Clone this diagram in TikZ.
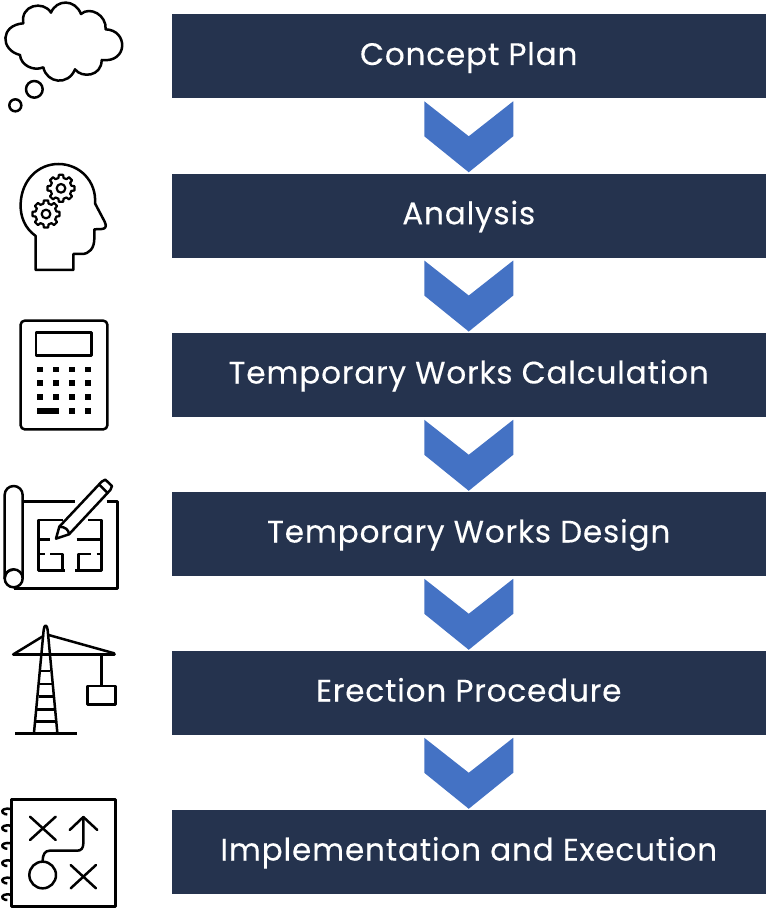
\documentclass[tikz,border=0pt]{standalone}
\usepackage{fontspec}
\setmainfont[FakeBold=0.25]{Poppins}
\newlength{\du}
\setlength{\du}{0.75pt}
\definecolor{barcolor}{rgb}{0.145, 0.200, 0.306}
\definecolor{chevcolor}{rgb}{0.267, 0.447, 0.769}
\tikzset{
  stepbar/.style={fill=barcolor,text=white,minimum width=594.5\du,minimum height=84\du,inner sep=0pt,text height=25\du,text depth=8\du,font=\fontsize{23.3}{26}\selectfont\addfontfeature{LetterSpace=2.7}},
  chevfill/.style={fill=chevcolor},
  iconline/.style={draw=black,line width=2.5\du,line join=round},
  iconkey/.style={fill=black},
  zoomed/.style={shift={(0,#1)},scale=0.33333},
}
\newcommand{\drawgear}[2]{
\draw[iconline,line width=2.2\du,shift={(#1,#2)}] (-9:41) \foreach \a in {0,45,...,315}{ -- (\a-9:41) -- (\a+9:41) -- (\a+14:32) -- (\a+31:32) } -- cycle;
\draw[iconline,line width=2.2\du] (#1,#2) circle (13);
}
\newcommand{\drawcross}[4]{
\draw[iconline,line cap=round] (#1,#2)--(#3,#4);
\draw[iconline,line cap=round] (#1,#4)--(#3,#2);
}
\begin{document}
\begin{tikzpicture}[x=\du,y=-\du]
\useasboundingbox (0,0) rectangle (766,909);
% bars
\node[stepbar] (concept) at (468.75,56.5){Concept Plan};
\node[stepbar] (analysis) at (468.75,215.75){Analysis};
\node[stepbar] (calculation) at (468.75,375){Temporary Works Calculation};
\node[stepbar] (design) at (468.75,534){Temporary Works Design};
\node[stepbar] (erection) at (468.75,693){Erection Procedure};
\node[stepbar] (execution) at (468.75,852){Implementation and Execution};
% chevrons
\foreach \upper in {concept,analysis,calculation,design,erection}{
\fill[chevfill,shift={(\upper.south)}] (-44.5,2.5)--(0,37.5)--(44.5,2.5)--(44.5,37.5)--(0,73.5)--(-44.5,37.5)--cycle;
}
% cloud
\begin{scope}[zoomed=0]
\draw[iconline] (70,70) .. controls (60,15) and (130,0) .. (153,38)
  .. controls (170,-3) and (225,-3) .. (243,42)
  .. controls (270,18) and (320,45) .. (317,88)
  .. controls (385,90) and (385,190) .. (305,180)
  .. controls (305,230) and (245,235) .. (225,208)
  .. controls (205,258) and (140,250) .. (130,202)
  .. controls (100,215) and (62,195) .. (60,165)
  .. controls (0,150) and (0,75) .. (70,70) -- cycle;
\draw[iconline] (103,268) circle (25);
\draw[iconline] (46,316) circle (18);
\end{scope}
% head
\begin{scope}[zoomed=0]
\draw[iconline] (107,810)--(107,708) .. controls (75,685) and (60,650) .. (62,610)
  .. controls (65,540) and (115,492) .. (175,492)
  .. controls (240,492) and (290,545) .. (285,610)
  -- (314,665) .. controls (322,680) and (315,687) .. (305,687)
  -- (283,688) -- (283,715) .. controls (283,745) and (268,762) .. (245,762)
  -- (220,762) -- (220,810) -- cycle;
\drawgear{183}{565}
\drawgear{138}{642}
\end{scope}
% calculator
\begin{scope}[zoomed=300]
\draw[iconline,rounded corners=3pt] (62,62) rectangle (322,388);
\draw[iconline] (108,98) rectangle (274,167);
\foreach \ky in {208,249,291}{
\foreach \kx in {120,167,215,263}{
\fill[iconkey] (\kx-9,\ky-8) rectangle (\kx+9,\ky+8);
}}
\fill[iconkey] (111,325) rectangle (177,341);
\fill[iconkey] (206,325) rectangle (224,341);
\fill[iconkey] (254,325) rectangle (272,341);
\end{scope}
% blueprint
\begin{scope}[zoomed=300]
\draw[iconline] (40,809) .. controls (26,809) and (14,820) .. (14,835) -- (14,585)
  .. controls (14,570) and (26,558) .. (41,558) .. controls (56,558) and (68,570) .. (68,585)
  -- (68,835);
\draw[iconline] (41,835) circle (27);
\draw[iconline] (68,605)--(225,605);
\draw[iconline] (320,605)--(353,605)--(353,865)--(41,865);
\draw[iconline] (190,660)--(115,660)--(115,812)--(195,812);
\draw[iconline] (187,812)--(187,762)--(150,762);
\draw[iconline] (115,762)--(135,762);
\draw[iconline] (115,718)--(150,718);
\draw[iconline] (265,660)--(305,660)--(305,812)--(225,812);
\draw[iconline] (235,812)--(235,762)--(272,762);
\draw[iconline] (290,762)--(305,762);
\draw[iconline] (230,718)--(305,718);
\draw[iconline] (168,716)--(178,680)--(305,545)--(316,539)--(336,558)--(331,570)--(207,703)--cycle;
\draw[iconline] (178,680) .. controls (195,680) and (207,690) .. (207,703);
\draw[iconline] (297,553)--(324,580);
\end{scope}
% crane
\begin{scope}[zoomed=610]
\draw[iconline] (102,368)--(131,60) .. controls (133,42) and (141,42) .. (143,60) -- (172,368);
\foreach \ry/\rw in {183/14,222/18,260/21,298/25,335/29}{
\draw[iconline] (137-\rw,\ry)--(137+\rw,\ry);
}
\draw[iconline,line width=3\du,line cap=round] (40,133)--(343,133);
\draw[iconline,line cap=round] (40,133)--(130,78);
\draw[iconline,line cap=round] (146,75)--(343,130);
\draw[iconline] (304,133)--(304,228);
\draw[iconline] (263,228) rectangle (346,284);
\draw[iconline] (45,370)--(230,370);
\end{scope}
% plan
\begin{scope}[zoomed=610]
\draw[iconline,line width=3\du] (34,567) rectangle (345,888);
\foreach \ry in {605,655,708,760,812,862}{
\draw[iconline] (34,\ry-8) .. controls (15,\ry-12) and (2,\ry-5) .. (8,\ry+3) .. controls (12,\ry+8) and (20,\ry+8) .. (22,\ry+8);
}
\drawcross{90}{620}{167}{690}
\drawcross{212}{765}{288}{835}
\draw[iconline,line cap=round] (209,660)--(250,621)--(292,660);
\draw[iconline,line cap=round] (250,621)--(250,700) .. controls (250,715) and (243,722) .. (232,722)
  -- (150,722) .. controls (135,722) and (128,732) .. (128,755);
\draw[iconline] (128,795) circle (40);
\end{scope}
\end{tikzpicture}
\end{document}
